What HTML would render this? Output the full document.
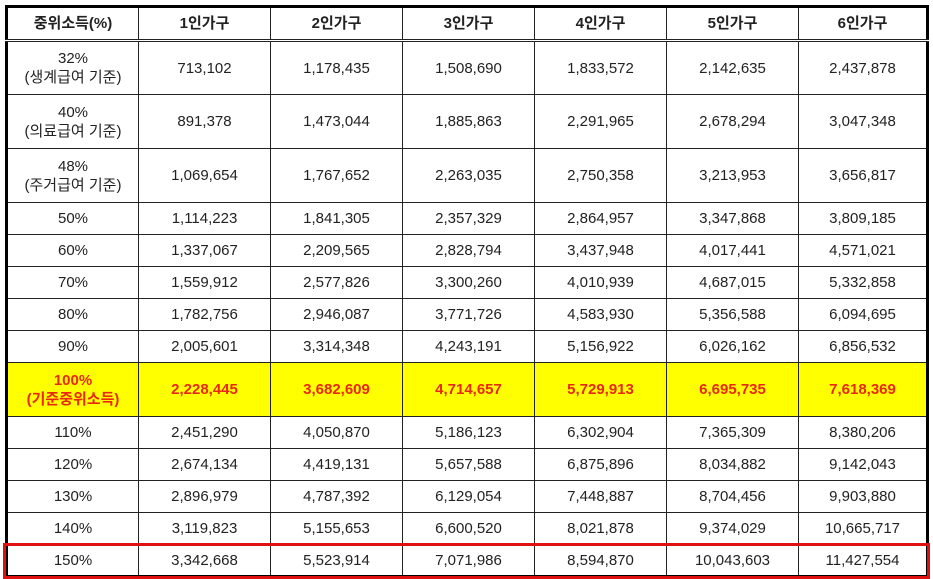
<!DOCTYPE html>
<html><head><meta charset="utf-8"><style>
body{margin:0;width:933px;height:579px;background:#fff;overflow:hidden;position:relative;font-family:"Liberation Sans","Noto Sans CJK KR",sans-serif}
table{position:absolute;left:5px;top:5px;border-collapse:collapse;table-layout:fixed;border:3px solid #000}
td{border:1px solid #222;text-align:center;font-size:15px;color:#222;padding:0;line-height:19px}
tr.h td{font-weight:bold;height:31px;border-bottom:3px double #222}
tr.y td{background:#ffff00;color:#e8290f;font-weight:bold}
.red{position:absolute;left:3px;top:543px;width:921px;height:30px;border:3px solid #e01010}
</style></head><body>
<table>
<colgroup><col style="width:132px"><col style="width:132px"><col style="width:132px"><col style="width:132px"><col style="width:132px"><col style="width:132px"><col style="width:129px"></colgroup>
<tr class="h"><td>중위소득(%)</td><td>1인가구</td><td>2인가구</td><td>3인가구</td><td>4인가구</td><td>5인가구</td><td>6인가구</td></tr>
<tr style="height:54px"><td>32%<br>(생계급여 기준)</td><td>713,102</td><td>1,178,435</td><td>1,508,690</td><td>1,833,572</td><td>2,142,635</td><td>2,437,878</td></tr>
<tr style="height:54px"><td>40%<br>(의료급여 기준)</td><td>891,378</td><td>1,473,044</td><td>1,885,863</td><td>2,291,965</td><td>2,678,294</td><td>3,047,348</td></tr>
<tr style="height:54px"><td>48%<br>(주거급여 기준)</td><td>1,069,654</td><td>1,767,652</td><td>2,263,035</td><td>2,750,358</td><td>3,213,953</td><td>3,656,817</td></tr>
<tr style="height:32px"><td>50%</td><td>1,114,223</td><td>1,841,305</td><td>2,357,329</td><td>2,864,957</td><td>3,347,868</td><td>3,809,185</td></tr>
<tr style="height:32px"><td>60%</td><td>1,337,067</td><td>2,209,565</td><td>2,828,794</td><td>3,437,948</td><td>4,017,441</td><td>4,571,021</td></tr>
<tr style="height:32px"><td>70%</td><td>1,559,912</td><td>2,577,826</td><td>3,300,260</td><td>4,010,939</td><td>4,687,015</td><td>5,332,858</td></tr>
<tr style="height:32px"><td>80%</td><td>1,782,756</td><td>2,946,087</td><td>3,771,726</td><td>4,583,930</td><td>5,356,588</td><td>6,094,695</td></tr>
<tr style="height:32px"><td>90%</td><td>2,005,601</td><td>3,314,348</td><td>4,243,191</td><td>5,156,922</td><td>6,026,162</td><td>6,856,532</td></tr>
<tr class="y" style="height:54px"><td>100%<br>(기준중위소득)</td><td>2,228,445</td><td>3,682,609</td><td>4,714,657</td><td>5,729,913</td><td>6,695,735</td><td>7,618,369</td></tr>
<tr style="height:32px"><td>110%</td><td>2,451,290</td><td>4,050,870</td><td>5,186,123</td><td>6,302,904</td><td>7,365,309</td><td>8,380,206</td></tr>
<tr style="height:32px"><td>120%</td><td>2,674,134</td><td>4,419,131</td><td>5,657,588</td><td>6,875,896</td><td>8,034,882</td><td>9,142,043</td></tr>
<tr style="height:32px"><td>130%</td><td>2,896,979</td><td>4,787,392</td><td>6,129,054</td><td>7,448,887</td><td>8,704,456</td><td>9,903,880</td></tr>
<tr style="height:32px"><td>140%</td><td>3,119,823</td><td>5,155,653</td><td>6,600,520</td><td>8,021,878</td><td>9,374,029</td><td>10,665,717</td></tr>
<tr style="height:32px"><td>150%</td><td>3,342,668</td><td>5,523,914</td><td>7,071,986</td><td>8,594,870</td><td>10,043,603</td><td>11,427,554</td></tr>
</table>
<div class="red"></div>
</body></html>
